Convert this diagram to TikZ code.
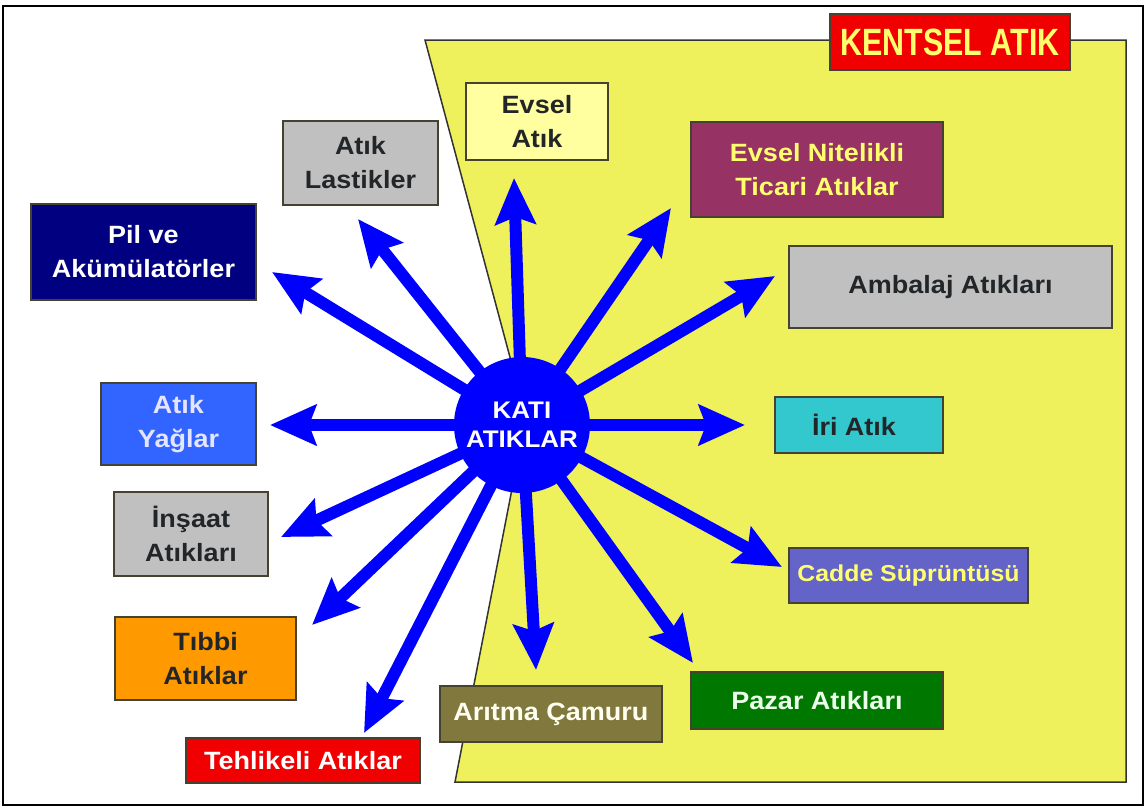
\documentclass[tikz,border=0pt]{standalone}
\usepackage{fontspec}
\setmainfont{Liberation Sans}[FakeStretch=1.08]
\newfontfamily\kfont{Liberation Sans}[FakeStretch=0.8]
\usetikzlibrary{arrows.meta}
\definecolor{yel}{RGB}{238,240,92}
\definecolor{boxline}{RGB}{70,66,50}
\definecolor{arrblue}{RGB}{0,0,255}
\definecolor{txtdark}{RGB}{35,38,40}
\definecolor{txtyel}{RGB}{255,255,110}
\definecolor{fEvsel}{RGB}{255,255,160}
\definecolor{fTicari}{RGB}{150,50,100}
\definecolor{fGray}{RGB}{192,192,192}
\definecolor{fIri}{RGB}{50,200,205}
\definecolor{fCadde}{RGB}{100,100,200}
\definecolor{fPazar}{RGB}{0,120,0}
\definecolor{fAritma}{RGB}{128,120,60}
\definecolor{fRed}{RGB}{240,0,0}
\definecolor{fTibbi}{RGB}{255,153,0}
\definecolor{fYag}{RGB}{50,100,255}
\definecolor{fPil}{RGB}{0,0,128}
\begin{document}
\begin{tikzpicture}[x=1pt,y=-1pt,
  box/.style={draw=boxline, line width=1.6pt, align=center, inner sep=0pt,
    font=\fontsize{25}{34}\selectfont\bfseries},
  arr/.style={draw=arrblue, line width=12pt,
    -{Stealth[width=40pt,length=46pt,inset=7pt]}}]
\useasboundingbox (0,0) rectangle (1147,809);
\fill[white] (0,0) rectangle (1147,809);
\draw[black, line width=2.5pt] (3,6) rectangle (1143,805);
% yellow region
\draw[fill=yel, draw=black!80, line width=1.5pt]
  (425,40) -- (1126,40) -- (1126,782) -- (455,782) -- (526,417) -- cycle;
% title
\node[draw=boxline, line width=1.2pt, fill=fRed, minimum width=240pt, minimum height=56pt, inner sep=0pt,
  text=txtyel, font=\kfont\fontsize{38}{44}\selectfont\bfseries] (title) at (950,42) {KENTSEL ATIK};
% boxes
\node[box, fill=fEvsel, text=txtdark, minimum width=142pt, minimum height=77pt] (evsel) at (537,121.5) {Evsel\\Atık};
\node[box, fill=fTicari, text=txtyel, minimum width=252pt, minimum height=95pt] (ticari) at (817,169.5) {Evsel Nitelikli\\Ticari Atıklar};
\node[box, fill=fGray, text=txtdark, minimum width=323pt, minimum height=82pt] (ambalaj) at (950.5,287) {Ambalaj Atıkları};
\node[box, fill=fIri, text=txtdark, minimum width=168pt, minimum height=56pt] (iri) at (859,425) {İri Atık\hspace*{10pt}};
\node[box, fill=fCadde, text=txtyel, minimum width=239pt, minimum height=55pt,
  font=\fontsize{23}{30}\selectfont\bfseries] (cadde) at (908.5,575.5) {Cadde Süprüntüsü};
\node[box, fill=fPazar, text=white!92!green, minimum width=252pt, minimum height=57pt] (pazar) at (817,700.5) {Pazar Atıkları};
\node[box, fill=fAritma, text=white!94!yellow, minimum width=222pt, minimum height=56pt] (aritma) at (551,714) {Arıtma Çamuru};
\node[box, fill=fRed, text=white, minimum width=234pt, minimum height=45pt] (tehlikeli) at (303,760.5) {Tehlikeli Atıklar};
\node[box, fill=fTibbi, text=txtdark, minimum width=181pt, minimum height=83pt] (tibbi) at (205.5,658.5) {Tıbbi\\Atıklar};
\node[box, fill=fGray, text=txtdark, minimum width=154pt, minimum height=84pt] (insaat) at (191,534) {İnşaat\\Atıkları};
\node[box, fill=fYag, text=white!90!blue, minimum width=155pt, minimum height=82pt] (yag) at (178.5,424) {Atık\\Yağlar};
\node[box, fill=fPil, text=white, minimum width=225pt, minimum height=96pt] (pil) at (143.5,252) {Pil ve\\Akümülatörler};
\node[box, fill=fGray, text=txtdark, minimum width=155pt, minimum height=84pt] (lastik) at (360.5,163) {Atık\\Lastikler};
% arrows
\coordinate (c) at (522,425);
\coordinate (tEvsel) at (514,178);
\coordinate (tTicari) at (671,208);
\coordinate (tAmbalaj) at (775,276);
\coordinate (tIri) at (745,425);
\coordinate (tCadde) at (782,567);
\coordinate (tPazar) at (693,663);
\coordinate (tAritma) at (536,670);
\coordinate (tTehlikeli) at (364,733);
\coordinate (tTibbi) at (312,625);
\coordinate (tInsaat) at (281,537);
\coordinate (tYag) at (270,425);
\coordinate (tPil) at (272,272);
\coordinate (tLastik) at (358,219);
\foreach \t in {tEvsel,tTicari,tAmbalaj,tIri,tCadde,tPazar,tAritma,tTehlikeli,tTibbi,tInsaat,tYag,tPil,tLastik}
  \draw[arr] (c) -- (\t);
\node[circle, fill=arrblue, minimum size=136pt, inner sep=0pt, align=center, text=white,
  font=\fontsize{24}{29}\selectfont\bfseries] (kati) at (c) {KATI\\ATIKLAR};
\end{tikzpicture}
\end{document}
